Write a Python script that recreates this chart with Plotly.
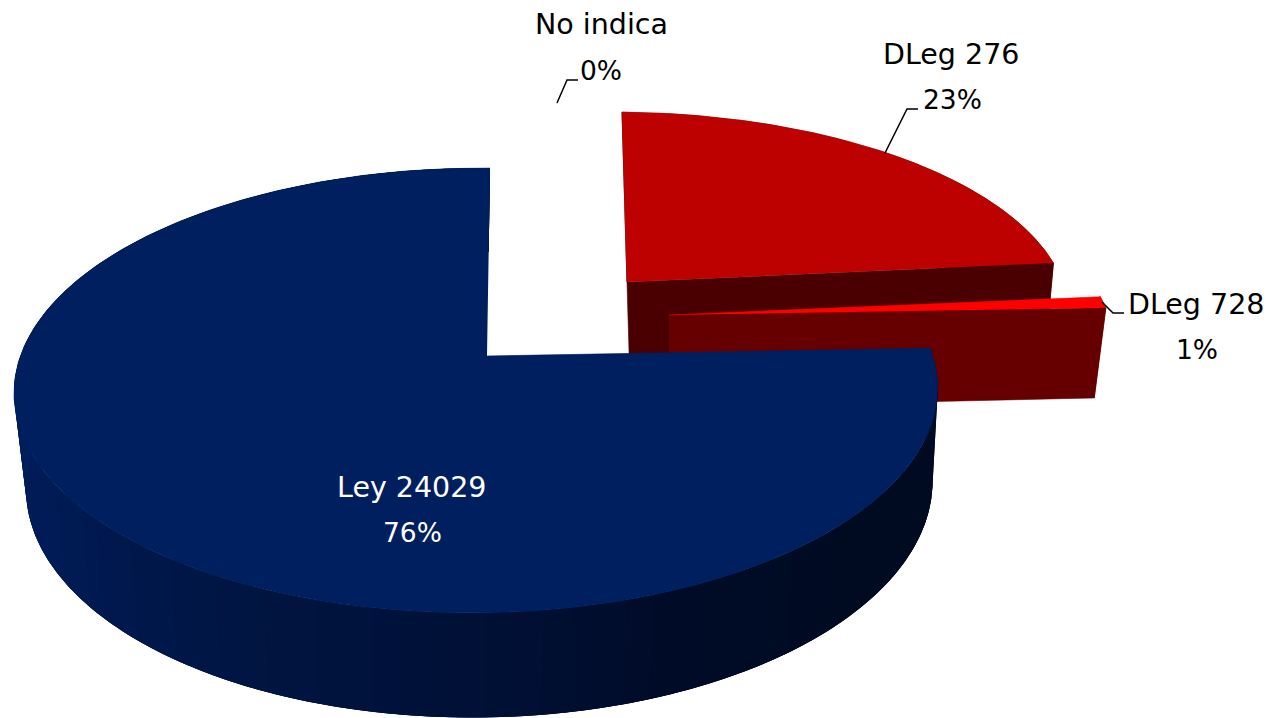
import numpy as np
import plotly.graph_objects as go

# ---- data ----
categories = ["DLeg 276", "DLeg 728", "Ley 24029", "No indica"]
percent_values = [23.4, 1.0, 75.6, 0.0]
percent_labels = ["23%", "1%", "76%", "0%"]

# ---- style ----
top_colors = ["#BD0000", "#FF0000", "#001F5F", "#FFFFFF"]
wall_colors = ["#4A0000", "#660000", None, None]
apex_x = [627.0, 669.0, 487.0, 487.0]
apex_y = [282.0, 315.0, 356.0, 356.0]
scale_x = [0.977, 0.986, 1.0, 1.0]
scale_y = [0.904, 0.90, 1.0, 1.0]
shear = [0.029, 0.0, -0.016, 0.0]
depth = [98.0, 95.0, 95.0, 98.0]
persp_z = [0.028, 0.028, 0.018, 0.0]
persp_zu = [0.0, 0.0, -0.010, 0.0]
shade_u = [-1.0, -0.65, -0.35, 0.0, 0.35, 0.7, 1.0]
shade_r = [0, 0, 0, 0, 0, 0, 0]
shade_g = [29, 23, 20, 16, 11, 11, 11]
shade_b = [92, 74, 63, 54, 40, 34, 34]

A, B = 456.0, 217.0
K, M = 0.155, 0.0227


def proj(i, u, v, z=0.0):
    u, v = np.asarray(u, float), np.asarray(v, float)
    w = 1 + K * v + M * u + (persp_z[i] + persp_zu[i] * u) * z
    xr = A * u / w
    yr = -B * v * scale_y[i] / w + depth[i] * z / w
    return apex_x[i] + scale_x[i] * xr + shear[i] * yr, apex_y[i] + yr


def shade(u):
    return "rgb(%d,%d,%d)" % (
        round(np.interp(u, shade_u, shade_r)),
        round(np.interp(u, shade_u, shade_g)),
        round(np.interp(u, shade_u, shade_b)),
    )


fig = go.Figure()


def poly(x, y, color, lw=0.6):
    fig.add_trace(go.Scatter(
        x=list(x), y=list(y), mode="lines", fill="toself", fillcolor=color,
        line=dict(color=color, width=lw), hoverinfo="skip", showlegend=False))


total = sum(percent_values)
edges = np.concatenate([[0], np.cumsum(percent_values)]) / total * 2 * np.pi


def rim(t0, t1, n=160):
    t = np.linspace(t0, t1, n)
    return np.sin(t), np.cos(t)


def face(i, t, color):
    eu, ev = np.sin(t), np.cos(t)
    x0, y0 = proj(i, [0, eu], [0, ev], 0)
    x1, y1 = proj(i, [eu, 0], [ev, 0], 1)
    poly(np.r_[x0, x1], np.r_[y0, y1], color)


def wall(i, t0, t1, color, lw=0.6):
    u, v = rim(t0, t1, 24)
    x0, y0 = proj(i, u, v, 0)
    x1, y1 = proj(i, u[::-1], v[::-1], 1)
    poly(np.r_[x0, x1], np.r_[y0, y1], color, lw)


def top(i):
    u, v = rim(edges[i], edges[i + 1], 300)
    x, y = proj(i, np.r_[0, u], np.r_[0, v], 0)
    poly(x, y, top_colors[i])


# DLeg 276
face(0, edges[0], wall_colors[0])
wall(0, edges[0], edges[1], wall_colors[0])
face(0, edges[1], wall_colors[0])
top(0)

# DLeg 728
wall(1, edges[1], edges[2], wall_colors[1])
face(1, edges[2], wall_colors[1])
top(1)

# Ley 24029: shaded outer wall, each band overlapping the next so no seams show
steps = np.linspace(edges[2], edges[3], 90)
d = steps[1] - steps[0]
for t0, t1 in zip(steps[:-1], steps[1:]):
    end = min(t1 + 2 * d, edges[3])
    wall(2, t0, end, shade(np.sin((t0 + t1) / 2)), 0)
top(2)

# leader lines
leader_x = [[557, 567, 578], [885, 907, 918], [1102, 1113, 1124]]
leader_y = [[103, 80, 80], [153, 109, 109], [302, 313, 313]]
for lx, ly in zip(leader_x, leader_y):
    fig.add_trace(go.Scatter(x=lx, y=ly, mode="lines", line=dict(color="#000000", width=1.5),
                             hoverinfo="skip", showlegend=False))

FONT = "DejaVu Sans"
label_pos = {
    "DLeg 276": ((951, 54), (952, 99), "#000000"),
    "DLeg 728": ((1196, 304), (1197, 349), "#000000"),
    "Ley 24029": ((412, 487), (412, 532), "#FFFFFF"),
    "No indica": ((601, 24), (601, 70), "#000000"),
}
annotations = []
for cat, pct in zip(categories, percent_labels):
    p1, p2, col = label_pos[cat]
    for (px, py), txt, fs in ((p1, cat, 28.5), (p2, pct, 26.5)):
        annotations.append(dict(x=px, y=py, text=txt, showarrow=False, xanchor="center",
                                yanchor="middle", font=dict(family=FONT, size=fs, color=col)))

fig.update_layout(
    width=1271, height=718, margin=dict(l=0, r=0, t=0, b=0),
    paper_bgcolor="#FFFFFF", plot_bgcolor="#FFFFFF", showlegend=False,
    xaxis=dict(range=[0, 1271], visible=False, fixedrange=True),
    yaxis=dict(range=[718, 0], visible=False, fixedrange=True),
    annotations=annotations,
)
fig.write_html("out.html", config={"displayModeBar": False},
               post_script="document.body.style.margin='0';document.body.style.overflow='hidden';")
